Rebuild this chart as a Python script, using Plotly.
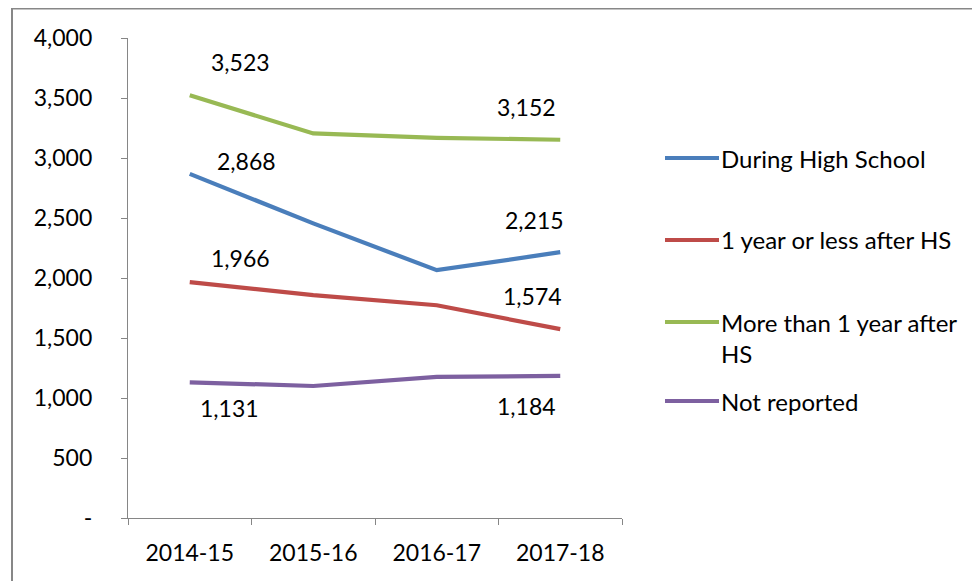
import plotly.graph_objects as go

categories = ["2014-15", "2015-16", "2016-17", "2017-18"]
series_names = ["During High School", "1 year or less after HS",
                "More than 1 year after<br>HS", "Not reported"]
during_hs = [2868, 2455, 2065, 2215]
one_year_or_less = [1966, 1858, 1773, 1574]
more_than_one_year = [3523, 3205, 3168, 3152]
not_reported = [1131, 1100, 1176, 1184]
colors = ["#4A7EBB", "#BE4B48", "#98B954", "#7D60A0"]
y_tickvals = [0, 500, 1000, 1500, 2000, 2500, 3000, 3500, 4000]
y_ticktext = ["-", "500", "1,000", "1,500", "2,000", "2,500", "3,000", "3,500", "4,000"]

series = [during_hs, one_year_or_less, more_than_one_year, not_reported]
# label offsets (first point, last point) in pixels
label_shifts = [
    [(57, 13), (-26, 32)],
    [(51, 24), (-28, 33)],
    [(51, 33), (-34, 33)],
    [(40, -26), (-34, -30)],
]

FONT = "Lato, Open Sans, sans-serif"
FS = 23
OFF = 8  # page offset of the rendered figure
fig = go.Figure()
annotations = []
for name, vals, col, shifts in zip(series_names, series, colors, label_shifts):
    fig.add_trace(go.Scatter(x=categories, y=vals, mode="lines", name=name,
                             line=dict(color=col, width=4.2), showlegend=False))
    for idx, (dx, dy) in zip([0, len(vals) - 1], shifts):
        annotations.append(dict(x=categories[idx], y=vals[idx], xref="x", yref="y",
                                text=f"{vals[idx]:,}", showarrow=False,
                                xshift=dx, yshift=dy,
                                font=dict(family=FONT, size=FS, color="#000000")))

# target screen positions of plot area
L, T, W, H = 128, 38, 494, 480
def px_x(p):
    return (p - L) / W
def px_y(p):
    return (T + H - p) / H

legend_y = [158, 240, 322, 401]
shapes = []
for name, col, ly in zip(series_names, colors, legend_y):
    shapes.append(dict(type="line", xref="paper", yref="paper",
                       x0=px_x(665), x1=px_x(719), y0=px_y(ly), y1=px_y(ly),
                       line=dict(color=col, width=4.2)))
    if "<br>" in name:
        annotations.append(dict(x=px_x(719), y=px_y(ly - 16), xref="paper", yref="paper",
                                text=name, showarrow=False, xanchor="left", yanchor="top",
                                align="left",
                                font=dict(family=FONT, size=FS + 1, color="#000000")))
    else:
        annotations.append(dict(x=px_x(719), y=px_y(ly), xref="paper", yref="paper",
                                text=name, showarrow=False, xanchor="left", yanchor="middle",
                                align="left",
                                font=dict(family=FONT, size=FS + 1, color="#000000")))

# outer chart border (left and top visible)
shapes.append(dict(type="line", xref="paper", yref="paper",
                   x0=px_x(12), x1=px_x(12), y0=px_y(600), y1=px_y(8.5),
                   line=dict(color="#878787", width=2)))
shapes.append(dict(type="line", xref="paper", yref="paper",
                   x0=px_x(11), x1=px_x(1000), y0=px_y(8.5), y1=px_y(8.5),
                   line=dict(color="#878787", width=2)))

fig.update_layout(
    width=980, height=581,
    margin=dict(l=L - OFF, r=980 - (L - OFF) - W, t=T - OFF, b=581 - (T - OFF) - H),
    paper_bgcolor="white", plot_bgcolor="white",
    font=dict(family=FONT, size=FS, color="#000000"),
    annotations=annotations, shapes=shapes,
    xaxis=dict(type="category", range=[-0.5, 3.5], showgrid=False,
               showline=True, linecolor="#868686", linewidth=1.3,
               ticks="outside", tickson="boundaries", ticklen=6,
               tickcolor="#868686", tickwidth=1.3, ticklabelstandoff=14,
               tickfont=dict(family=FONT, size=FS)),
    yaxis=dict(range=[0, 4000], showgrid=False, zeroline=False,
               showline=True, linecolor="#868686", linewidth=1.3,
               ticks="outside", ticklen=6, tickcolor="#868686", tickwidth=1.3,
               tickvals=y_tickvals, ticktext=y_ticktext, ticklabelstandoff=24,
               tickfont=dict(family=FONT, size=FS)),
)
fig.write_html("out.html")
